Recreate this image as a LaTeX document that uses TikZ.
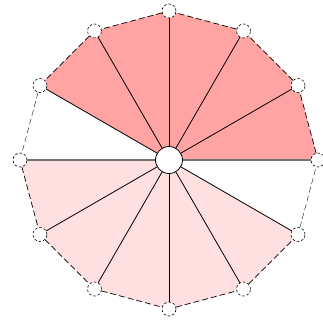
\documentclass[tikz,border=0pt]{standalone}
\usetikzlibrary{backgrounds}
\definecolor{upperred}{RGB}{255,163,163}
\definecolor{lowerpink}{RGB}{255,224,224}
\tikzset{
  vert/.style={circle,draw,fill=white,dash pattern=on 2.5pt off 2pt,minimum size=14pt,inner sep=0pt,line width=0.6pt},
  hub/.style={circle,draw,fill=white,minimum size=27pt,inner sep=0pt,line width=0.8pt},
  spoke/.style={line width=0.8pt},
  flatspoke/.style={line width=1.3pt,black!55},
  rim/.style={line width=0.7pt,dash pattern=on 6pt off 3pt},
  faintrim/.style={line width=0.5pt,black!80,dash pattern=on 6pt off 3pt}
}
\begin{document}
\begin{tikzpicture}[x=1pt,y=1pt]
\useasboundingbox (-169,-167) rectangle (153,160);
\foreach \i in {0,...,11} \coordinate (p\i) at (\i*30:149);
\coordinate (o) at (0,0);
\fill[upperred] (o) -- (p0) -- (p1) -- (p2) -- (p3) -- (p4) -- (p5) -- cycle;
\fill[lowerpink] (o) -- (p6) -- (p7) -- (p8) -- (p9) -- (p10) -- (p11) -- cycle;
\foreach \i in {0,...,11} \node[vert] (v\i) at (p\i) {};
\node[hub] (c) at (o) {};
\draw[flatspoke] (c) -- (v0);
\draw[flatspoke] (c) -- (v6);
\foreach \i in {1,2,3,4,5,7,8,9,10,11} \draw[spoke] (c) -- (v\i);
\foreach \i/\j in {0/1,1/2,2/3,3/4,4/5,6/7,7/8,8/9,9/10,10/11} \draw[rim] (v\i) -- (v\j);
\draw[faintrim] (v5) -- (v6);
\draw[faintrim] (v11) -- (v0);
\end{tikzpicture}
\end{document}
